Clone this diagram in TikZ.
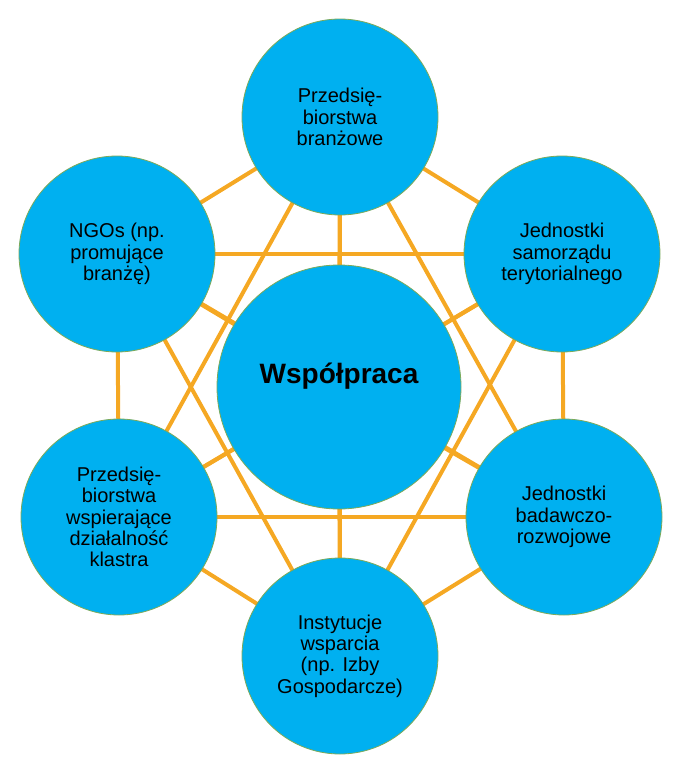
\documentclass[tikz,border=0pt]{standalone}
\usepackage{fontspec}
\setmainfont{Liberation Sans}
\usepackage{xcolor}
\usepackage{tikz}
\usetikzlibrary{backgrounds}
\definecolor{niebieski}{RGB}{0,176,240}
\definecolor{pomarancz}{RGB}{245,168,35}
\definecolor{obrys}{RGB}{125,170,90}
\tikzset{
  kolo/.style={circle,fill=niebieski,draw=obrys,line width=0.6pt,
    minimum size=147pt,inner sep=0pt,align=center,
    font=\fontsize{15}{16}\selectfont},
  srodek/.style={kolo,minimum size=183pt,text height=0pt,text depth=6pt,
    font=\fontsize{21}{24}\selectfont\bfseries},
  polaczenie/.style={pomarancz,line width=3pt}
}

\begin{document}
\begin{tikzpicture}[x=0.75pt,y=-0.75pt]
    \useasboundingbox (0,0) rectangle (692,764);

    % Kolo centralne i szesc kol dookola.
    \node[srodek] (centrum) at (339,387) {Współpraca};
    \node[kolo] (gora) at (340,117) {Przedsię-\\biorstwa\\branżowe};
    \node[kolo] (pg) at (562,254) {Jednostki\\samorządu\\terytorialnego};
    \node[kolo] (pd) at (564,517) {Jednostki\\badawczo-\\rozwojowe};
    \node[kolo] (dol) at (340,656) {Instytucje\\wsparcia\\(np. Izby\\Gospodarcze)};
    \node[kolo] (ld) at (119,517) {Przedsię-\\biorstwa\\wspierające\\działalność\\klastra};
    \node[kolo] (lg) at (117,254) {NGOs (np.\\promujące\\branżę)};

    % Polaczenia: kazde kolo z kazdym, pod kolami.
    \begin{scope}[on background layer]
      \foreach \a [count=\i] in {centrum,gora,pg,pd,dol,ld,lg}{
        \foreach \b [count=\j] in {centrum,gora,pg,pd,dol,ld,lg}{
          \ifnum\j>\i
            \draw[polaczenie] (\a.center) -- (\b.center);
          \fi
        }
      }
    \end{scope}
  \end{tikzpicture}
\end{document}
